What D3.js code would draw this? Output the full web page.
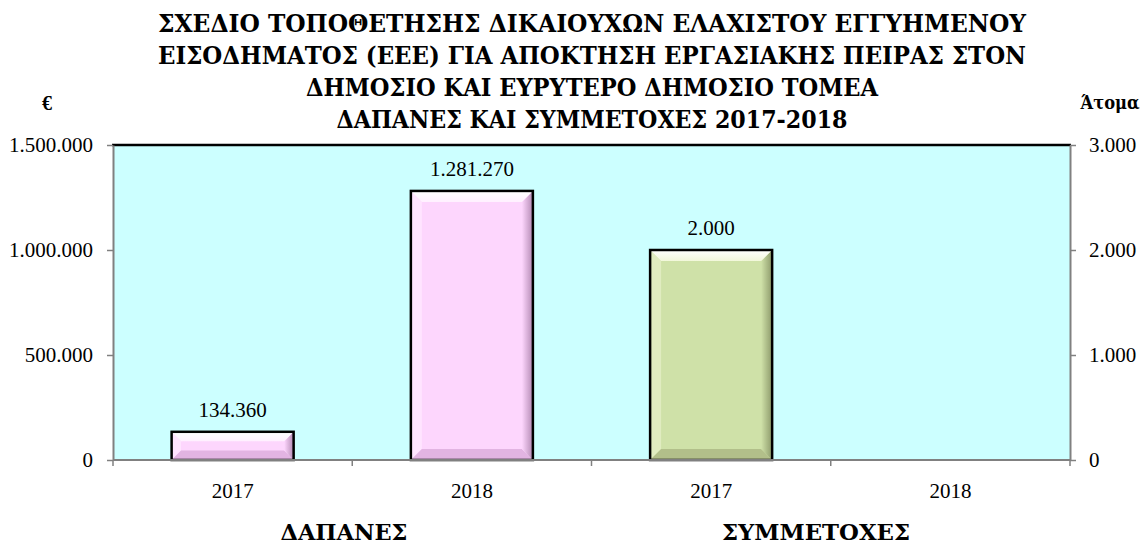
<!DOCTYPE html>
<html>
  <head>
    <meta charset="utf-8" />
    <script src="https://cdn.jsdelivr.net/npm/d3@7"></script>
    <style>
      body { margin: 0; background: #fff; }
      text { font-family: "Liberation Serif", "Times New Roman", serif; fill: #000; }
      text.gr { font-family: "DejaVu Serif Condensed", "DejaVu Serif", "Noto Serif", serif; }
    </style>
  </head>
  <body>
    <div id="container"></div>
    <script>
      // chart data
      const titleLines = [
        "ΣΧΕΔΙΟ ΤΟΠΟΘΕΤΗΣΗΣ ΔΙΚΑΙΟΥΧΩΝ ΕΛΑΧΙΣΤΟΥ ΕΓΓΥΗΜΕΝΟΥ",
        "ΕΙΣΟΔΗΜΑΤΟΣ (ΕΕΕ) ΓΙΑ ΑΠΟΚΤΗΣΗ ΕΡΓΑΣΙΑΚΗΣ ΠΕΙΡΑΣ ΣΤΟΝ",
        "ΔΗΜΟΣΙΟ ΚΑΙ ΕΥΡΥΤΕΡΟ ΔΗΜΟΣΙΟ ΤΟΜΕΑ",
        "ΔΑΠΑΝΕΣ ΚΑΙ ΣΥΜΜΕΤΟΧΕΣ 2017-2018",
      ];
      const years = ["2017", "2018"];
      const groups = ["ΔΑΠΑΝΕΣ", "ΣΥΜΜΕΤΟΧΕΣ"];
      const expenses = [134360, 1281270]; // €
      const participants = [2000, null]; // άτομα
      const leftTicks = [0, 500000, 1000000, 1500000];
      const rightTicks = [0, 1000, 2000, 3000];

      const w = 1143;
      const h = 546;
      const margin = { top: 145, right: 73, bottom: 86, left: 113 };
      // widths of the title lines in the original (Times), DejaVu is squeezed to them
      const titleWidths = [868, 868, 572, 511];

      const locale = d3.formatLocale({
        decimal: ",",
        thousands: ".",
        grouping: [3],
        currency: ["", "€"],
      });
      const fmt = locale.format(",d");

      // squeeze / stretch a text node to a given width
      function fitWidth(node, width) {
        d3.select(node)
          .attr("textLength", width)
          .attr("lengthAdjust", "spacingAndGlyphs");
      }

      // one slot per bar: group + year
      const slots = [];
      groups.forEach((g, gi) =>
        years.forEach((y, yi) =>
          slots.push({
            key: g + "-" + y,
            group: g,
            year: y,
            axis: gi == 0 ? "left" : "right",
            value: gi == 0 ? expenses[yi] : participants[yi],
          })
        )
      );

      const x = d3
        .scaleBand()
        .domain(slots.map((d) => d.key))
        .range([margin.left, w - margin.right]);
      const yLeft = d3
        .scaleLinear()
        .domain([0, 1500000])
        .range([h - margin.bottom, margin.top]);
      const yRight = d3
        .scaleLinear()
        .domain([0, 3000])
        .range([h - margin.bottom, margin.top]);

      const svg = d3
        .select("#container")
        .append("svg")
        .attr("width", w)
        .attr("height", h);

      const palettes = {
        left: { base: "#fdd6fd", top: "#fff0ff", side: "#ffe4ff", right: "#b48ab4", bottom: "#e2b4e2" },
        right: { base: "#cfe1a8", top: "#f2f7da", side: "#e0ecc0", right: "#8d9a6b", bottom: "#b2bf8a" },
      };

      const defs = svg.append("defs");
      Object.entries(palettes).forEach(([k, p]) => {
        const gr = defs
          .append("linearGradient")
          .attr("id", "rg-" + k)
          .attr("x1", 0).attr("x2", 1).attr("y1", 0).attr("y2", 0);
        gr.append("stop").attr("offset", "0%").attr("stop-color", p.base);
        gr.append("stop").attr("offset", "100%").attr("stop-color", p.right);
        const gt = defs
          .append("linearGradient")
          .attr("id", "tg-" + k)
          .attr("x1", 0).attr("x2", 0).attr("y1", 0).attr("y2", 1);
        gt.append("stop").attr("offset", "0%").attr("stop-color", "#ffffff");
        gt.append("stop").attr("offset", "100%").attr("stop-color", p.top);
      });

      // plot background
      const x0 = margin.left;
      const x1 = w - margin.right;
      const yTop = margin.top;
      const yBot = h - margin.bottom;
      svg
        .append("rect")
        .attr("x", x0)
        .attr("y", yTop)
        .attr("width", x1 - x0)
        .attr("height", yBot - yTop)
        .attr("fill", "#ccffff");

      // bars
      const barW = x.bandwidth() * 0.51;
      const bars = slots.filter((d) => d.value != null);
      bars.forEach((d) => {
        const ys = d.axis == "left" ? yLeft : yRight;
        const p = palettes[d.axis];
        const bx = x(d.key) + (x.bandwidth() - barW) / 2;
        const by = ys(d.value);
        const bw = barW;
        const bh = ys(0) - by;
        const b = Math.min(11, bh / 3);
        const g = svg.append("g").attr("class", "bar");
        g.append("rect")
          .attr("x", bx).attr("y", by).attr("width", bw).attr("height", bh)
          .attr("fill", p.base);
        const poly = (pts, fill) =>
          g.append("polygon")
            .attr("points", pts.map((q) => q.join(",")).join(" "))
            .attr("fill", fill);
        poly([[bx, by], [bx + b, by + b], [bx + b, by + bh - b], [bx, by + bh]], p.side);
        poly([[bx, by + bh], [bx + b, by + bh - b], [bx + bw - b, by + bh - b], [bx + bw, by + bh]], p.bottom);
        poly([[bx + bw, by], [bx + bw, by + bh], [bx + bw - b, by + bh - b], [bx + bw - b, by + b]], "url(#rg-" + d.axis + ")");
        poly([[bx, by], [bx + bw, by], [bx + bw - b, by + b], [bx + b, by + b]], "url(#tg-" + d.axis + ")");
        g.append("rect")
          .attr("x", bx).attr("y", by).attr("width", bw).attr("height", bh)
          .attr("fill", "none")
          .attr("stroke", "#000")
          .attr("stroke-width", 2.5);
        g.append("text")
          .attr("x", bx + bw / 2)
          .attr("y", by - 15)
          .attr("text-anchor", "middle")
          .attr("font-size", 21)
          .text(fmt(d.value));
      });

      // top frame line
      svg.append("line")
        .attr("x1", x0 - 1).attr("x2", x1 + 1).attr("y1", yTop).attr("y2", yTop)
        .attr("stroke", "#000").attr("stroke-width", 2.5);

      // axes
      const styleAxis = (g) => {
        g.selectAll(".domain").attr("stroke", "#808080").attr("stroke-width", 2);
        g.selectAll(".tick line").attr("stroke", "#808080").attr("stroke-width", 1.5);
        g.selectAll(".tick text")
          .attr("font-family", "Liberation Serif, serif")
          .attr("font-size", 21)
          .attr("fill", "#000");
      };

      svg.append("g")
        .attr("transform", `translate(${x0},0)`)
        .call(d3.axisLeft(yLeft).tickValues(leftTicks).tickFormat(fmt).tickSize(6).tickSizeOuter(0).tickPadding(14))
        .call(styleAxis);

      svg.append("g")
        .attr("transform", `translate(${x1},0)`)
        .call(d3.axisRight(yRight).tickValues(rightTicks).tickFormat(fmt).tickSize(6).tickSizeOuter(0).tickPadding(13))
        .call(styleAxis);

      // bottom axis: ticks at band boundaries, labels at band centres
      const bottom = svg.append("g").attr("transform", `translate(0,${yBot})`);
      bottom.append("line")
        .attr("x1", x0).attr("x2", x1).attr("y1", 0).attr("y2", 0)
        .attr("stroke", "#808080").attr("stroke-width", 2);
      const bounds = slots.map((d) => x(d.key)).concat([x1]);
      bottom.selectAll(".bt")
        .data(bounds)
        .enter()
        .append("line")
        .attr("x1", (d) => d).attr("x2", (d) => d)
        .attr("y1", 0).attr("y2", 6)
        .attr("stroke", "#808080").attr("stroke-width", 1.5);
      bottom.selectAll(".yl")
        .data(slots)
        .enter()
        .append("text")
        .attr("x", (d) => x(d.key) + x.bandwidth() / 2)
        .attr("y", 38)
        .attr("text-anchor", "middle")
        .attr("font-size", 21)
        .text((d) => d.year);

      // group labels
      const groupX = [344, 816];
      const groupW = [127, 188];
      svg.selectAll(".gl")
        .data(groups)
        .enter()
        .append("text")
        .attr("class", "gr")
        .attr("x", (d, i) => groupX[i])
        .attr("y", 540)
        .attr("text-anchor", "middle")
        .attr("font-size", 23)
        .attr("font-weight", "bold")
        .text((d) => d)
        .each(function (d, i) { fitWidth(this, groupW[i]); });

      // title
      svg.selectAll(".title")
        .data(titleLines)
        .enter()
        .append("text")
        .attr("class", "gr")
        .attr("x", 592)
        .attr("y", (d, i) => 32 + i * 32)
        .attr("text-anchor", "middle")
        .attr("font-size", 24)
        .attr("font-weight", "bold")
        .text((d) => d)
        .each(function (d, i) { fitWidth(this, titleWidths[i]); });

      // axis units
      svg.append("text")
        .attr("x", 47).attr("y", 110)
        .attr("text-anchor", "middle")
        .attr("font-size", 20).attr("font-weight", "bold")
        .text("€");
      const unit = svg.append("text")
        .attr("class", "gr")
        .attr("x", 1110).attr("y", 109)
        .attr("text-anchor", "middle")
        .attr("font-size", 18).attr("font-weight", "bold")
        .text("Άτομα");
      fitWidth(unit.node(), 59);
    </script>
  </body>
</html>
